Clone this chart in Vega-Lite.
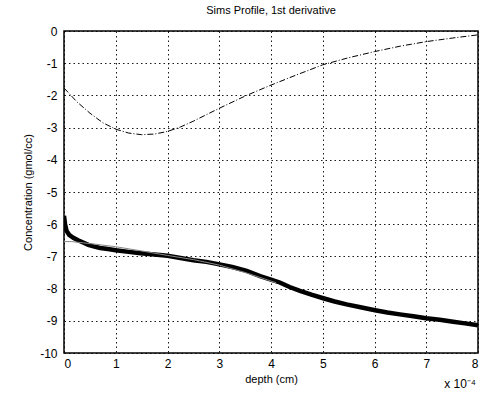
{
  "$schema": "https://vega.github.io/schema/vega-lite/v6.json",
  "width": 414,
  "height": 322,
  "autosize": "none",
  "padding": {"left": 64, "top": 31, "right": 16, "bottom": 50},
  "background": "white",
  "title": {"text": "Sims Profile, 1st derivative", "fontSize": 11, "font": "Liberation Sans", "fontWeight": "normal", "color": "black", "offset": 9},
  "config": {
    "view": {"stroke": "black", "strokeWidth": 1.5},
    "axis": {"labelFont": "Liberation Sans", "titleFont": "Liberation Sans", "labelColor": "black", "titleColor": "black", "labelFontSize": 12, "titleFontSize": 11, "titleFontWeight": "normal", "grid": true, "gridColor": "black", "gridDash": [1.5, 3], "gridOpacity": 0.9, "ticks": false, "domain": false}
  },
  "datasets": {
    "upper": [
      {"depth": 0, "c": -1.77}, {"depth": 0.25, "c": -2.2}, {"depth": 0.5, "c": -2.55}, {"depth": 0.75, "c": -2.85},
      {"depth": 1, "c": -3.05}, {"depth": 1.25, "c": -3.17}, {"depth": 1.5, "c": -3.22}, {"depth": 1.75, "c": -3.2},
      {"depth": 2, "c": -3.12}, {"depth": 2.25, "c": -2.98}, {"depth": 2.5, "c": -2.8}, {"depth": 2.75, "c": -2.6},
      {"depth": 3, "c": -2.4}, {"depth": 3.5, "c": -2.02}, {"depth": 4, "c": -1.68}, {"depth": 4.5, "c": -1.36},
      {"depth": 5, "c": -1.05}, {"depth": 5.5, "c": -0.83}, {"depth": 6, "c": -0.64}, {"depth": 6.5, "c": -0.47},
      {"depth": 7, "c": -0.33}, {"depth": 7.5, "c": -0.22}, {"depth": 8, "c": -0.12}
    ],
    "fit": [
      {"depth": 0, "c": -6.54}, {"depth": 0.15, "c": -6.54}, {"depth": 0.6, "c": -6.62}, {"depth": 1.0, "c": -6.7},
      {"depth": 1.5, "c": -6.83}, {"depth": 2.0, "c": -6.97}, {"depth": 2.5, "c": -7.1}, {"depth": 3.0, "c": -7.27},
      {"depth": 3.5, "c": -7.5}, {"depth": 4.1, "c": -7.82}
    ],
    "profile": [
      {"depth": 0, "c": -5.74}, {"depth": 0.02, "c": -6.0}, {"depth": 0.05, "c": -6.21}, {"depth": 0.1, "c": -6.33},
      {"depth": 0.18, "c": -6.42}, {"depth": 0.27, "c": -6.5}, {"depth": 0.37, "c": -6.57}, {"depth": 0.47, "c": -6.64},
      {"depth": 0.57, "c": -6.69}, {"depth": 0.7, "c": -6.74}, {"depth": 0.85, "c": -6.77}, {"depth": 1.0, "c": -6.81},
      {"depth": 1.25, "c": -6.86}, {"depth": 1.48, "c": -6.9}, {"depth": 1.75, "c": -6.94}, {"depth": 2.0, "c": -6.98},
      {"depth": 2.25, "c": -7.05}, {"depth": 2.5, "c": -7.12}, {"depth": 2.75, "c": -7.17}, {"depth": 2.98, "c": -7.24},
      {"depth": 3.25, "c": -7.33}, {"depth": 3.53, "c": -7.45}, {"depth": 3.79, "c": -7.61}, {"depth": 4.0, "c": -7.72},
      {"depth": 4.17, "c": -7.81}, {"depth": 4.36, "c": -7.95}, {"depth": 4.56, "c": -8.07}, {"depth": 4.78, "c": -8.19},
      {"depth": 5.01, "c": -8.3}, {"depth": 5.23, "c": -8.4}, {"depth": 5.46, "c": -8.49}, {"depth": 5.73, "c": -8.58},
      {"depth": 6.01, "c": -8.67}, {"depth": 6.25, "c": -8.74}, {"depth": 6.49, "c": -8.8}, {"depth": 6.75, "c": -8.86},
      {"depth": 7.0, "c": -8.92}, {"depth": 7.26, "c": -8.97}, {"depth": 7.52, "c": -9.03}, {"depth": 7.75, "c": -9.08},
      {"depth": 7.97, "c": -9.13}, {"depth": 8.0, "c": -9.14}
    ],
    "note": [{"depth": 8, "c": -10, "label": "x 10⁻⁴"}]
  },
  "encoding": {
    "x": {"field": "depth", "type": "quantitative", "scale": {"domain": [0, 8], "nice": false, "zero": false}, "axis": {"title": "depth (cm)", "values": [0,1,2,3,4,5,6,7,8], "labelPadding": 5, "titlePadding": 4}},
    "y": {"field": "c", "type": "quantitative", "scale": {"domain": [-10, 0], "nice": false, "zero": false}, "axis": {"title": "Concentration (gmol/cc)", "values": [-10,-9,-8,-7,-6,-5,-4,-3,-2,-1,0], "labelExpr": "replace(datum.label, '−', '-')", "labelPadding": 7, "titlePadding": 6}}
  },
  "layer": [
    {"data": {"name": "upper"}, "mark": {"type": "line", "color": "black", "strokeWidth": 1, "strokeDash": [6, 2, 1, 2], "clip": true}},
    {"data": {"name": "profile"}, "mark": {"type": "line", "color": "black", "strokeWidth": 4.5, "clip": true}},
    {"data": {"name": "fit"}, "mark": {"type": "line", "color": "#888888", "strokeWidth": 1, "clip": true}},
    {"data": {"name": "note"}, "mark": {"type": "text", "font": "Liberation Sans", "fontSize": 12, "color": "black", "align": "right", "baseline": "top", "dy": 26, "dx": -2}, "encoding": {"text": {"field": "label"}}}
  ]
}
